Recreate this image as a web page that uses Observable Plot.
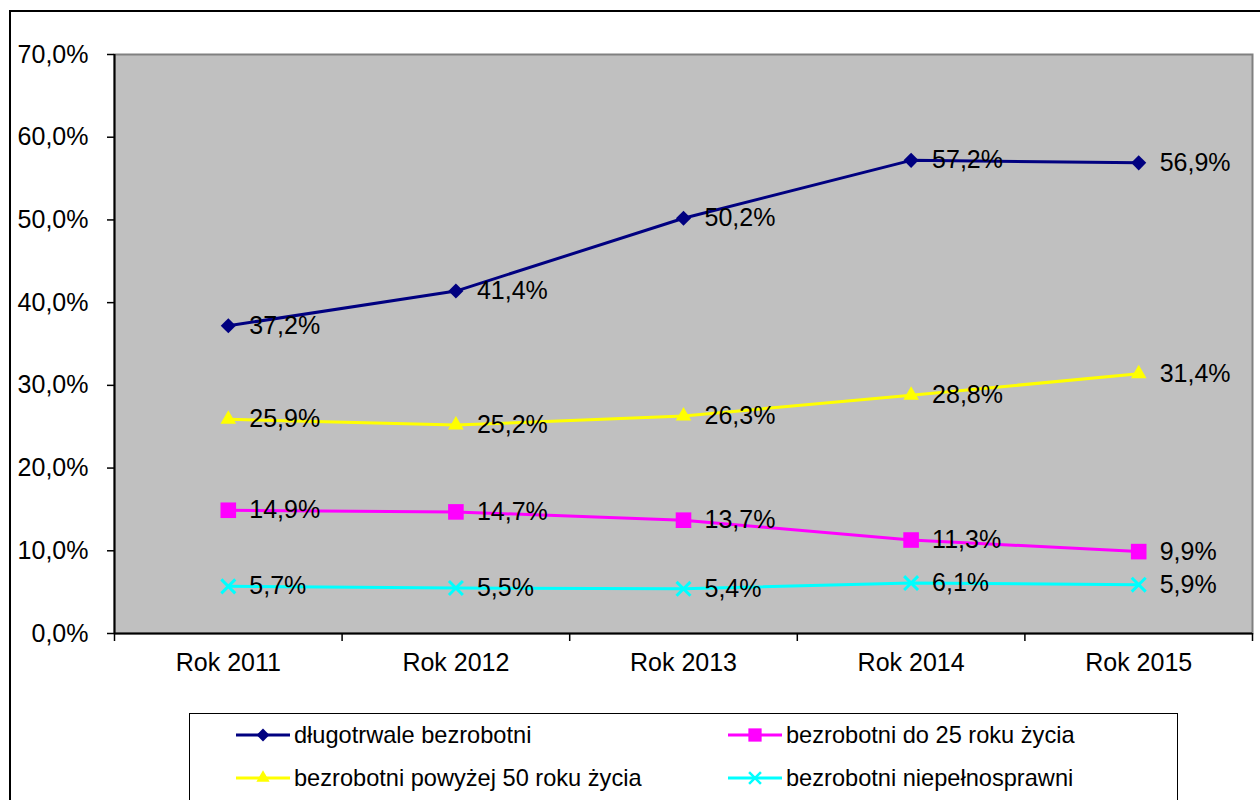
<!DOCTYPE html>
<html><head><meta charset="utf-8">
<script src="https://cdn.jsdelivr.net/npm/d3@7"></script>
<script src="https://cdn.jsdelivr.net/npm/@observablehq/plot@0.6"></script>
<style>
body{margin:0;background:#fff;font-family:"Liberation Sans",Arial,sans-serif;}
#wrap{position:relative;width:1260px;height:800px;overflow:hidden;background:#fff;}
#frame{position:absolute;left:9px;top:10px;width:1400px;height:900px;border-left:2px solid #000;border-top:2px solid #000;}
#chart{position:absolute;left:0;top:0;}
#legend{position:absolute;left:189px;top:713px;width:987px;height:200px;border:1.5px solid #000;background:#fff;}
.item{position:absolute;display:flex;align-items:center;font-size:23.6px;white-space:nowrap;color:#000;}
.item svg{display:block;}
</style></head><body>
<div id="wrap"><div id="frame"></div><div id="chart"></div><div id="legend"></div></div>
<script>
const years = ["Rok 2011","Rok 2012","Rok 2013","Rok 2014","Rok 2015"];
const seriesNames = ["długotrwale bezrobotni","bezrobotni do 25 roku życia","bezrobotni powyżej 50 roku życia","bezrobotni niepełnosprawni"];
const dlugotrwale = [37.2,41.4,50.2,57.2,56.9];
const do25 = [14.9,14.7,13.7,11.3,9.9];
const powyzej50 = [25.9,25.2,26.3,28.8,31.4];
const niepelnosprawni = [5.7,5.5,5.4,6.1,5.9];
const yTicks = [0,10,20,30,40,50,60,70];
const colors = ["#000080","#FF00FF","#FFFF00","#00FFFF"];
const symbols = ["diamond2","square","triangle","times"];
const symbolR = [6.8,8.8,5.8,6.4];

const allValues = [dlugotrwale, do25, powyzej50, niepelnosprawni];
const fmt = v => v.toFixed(1).replace(".", ",") + "%";

const seriesData = allValues.map((vals, s) => vals.map((v, i) => ({i, v, s, year: years[i]})));

const marks = [
  Plot.frame({fill:"#C0C0C0"}),
  Plot.frame({stroke:"#808080", strokeWidth:2}),
  Plot.ruleX([-0.5], {stroke:"#000", strokeWidth:2}),
  Plot.ruleY([0], {stroke:"#000", strokeWidth:2}),
  Plot.axisY({ticks: yTicks, tickSize:7, tickPadding:19, tickFormat: fmt, fontSize:25, label:null, strokeWidth:1.5}),
  Plot.axisX({ticks: d3.range(years.length + 1).map(i => i - 0.5), tickSize:8, tickFormat: () => "", label:null, strokeWidth:1.5}),
  Plot.axisX({ticks: d3.range(years.length), tickSize:0, tickPadding:20, tickFormat: i => years[i], fontSize:25, label:null})
];
seriesData.forEach((d, s) => {
  marks.push(Plot.line(d, {x:"i", y:"v", stroke: colors[s], strokeWidth:3}));
});
seriesData.forEach((d, s) => {
  const isStroke = symbols[s] === "times";
  marks.push(Plot.dot(d, {x:"i", y:"v", symbol: symbols[s], r: symbolR[s],
    fill: isStroke ? "none" : colors[s], stroke: isStroke ? colors[s] : "none", strokeWidth: isStroke ? 3 : 0}));
});
seriesData.forEach((d, s) => {
  marks.push(Plot.text(d, {x:"i", y:"v", text: d => fmt(d.v), dx:21, textAnchor:"start", lineAnchor:"middle", fontSize:25, fill:"#000"}));
});

const chart = Plot.plot({
  width:1260, height:700,
  marginLeft:114, marginRight:8, marginTop:54, marginBottom:67,
  x:{type:"linear", domain:[-0.5, years.length - 0.5]},
  y:{domain:[0,70]},
  style:{fontFamily:'"Liberation Sans",Arial,sans-serif', color:"#000", background:"transparent", overflow:"visible"},
  marks
});
document.getElementById("chart").appendChild(chart);

// legend
const legend = document.getElementById("legend");
const legendPos = [[46,21],[538,21],[46,64],[538,64]]; // swatch left, row centre, relative to legend box
const symMap = {diamond2: d3.symbolDiamond2, square: d3.symbolSquare, triangle: d3.symbolTriangle, times: d3.symbolTimes};
seriesNames.forEach((name, s) => {
  const [lx, cy] = legendPos[s];
  const item = document.createElement("div");
  item.className = "item";
  item.style.left = lx + "px";
  item.style.top = (cy - 15) + "px";
  item.style.height = "30px";
  const w = 54, h = 24;
  const isStroke = symbols[s] === "times";
  const path = d3.symbol(symMap[symbols[s]], Math.PI * symbolR[s] * symbolR[s])();
  item.innerHTML = `<svg width="${w}" height="${h}" viewBox="0 0 ${w} ${h}">
    <line x1="0" x2="${w}" y1="${h/2}" y2="${h/2}" stroke="${colors[s]}" stroke-width="3"/>
    <path d="${path}" transform="translate(${w/2},${h/2}) scale(0.85)" fill="${isStroke ? "none" : colors[s]}" stroke="${isStroke ? colors[s] : "none"}" stroke-width="3"/>
  </svg><span style="margin-left:4px">${name}</span>`;
  legend.appendChild(item);
});
</script>
</body></html>
